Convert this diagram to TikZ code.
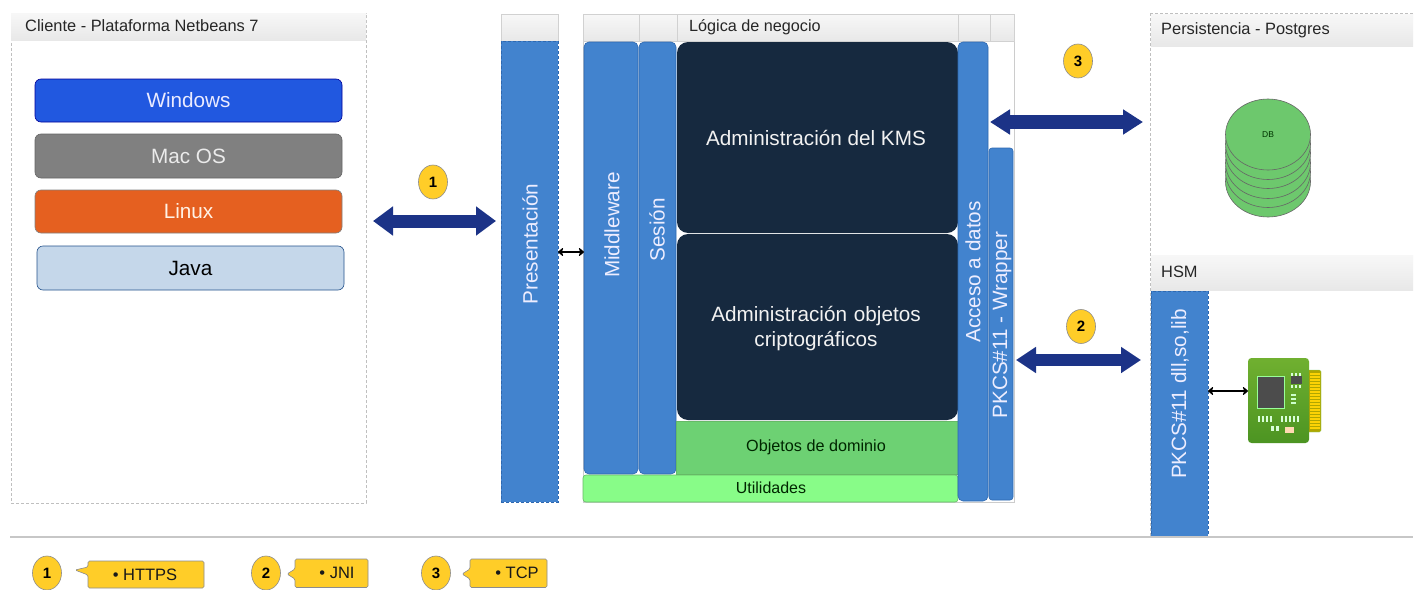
\documentclass[tikz,border=0pt]{standalone}
\usepackage{fontspec}
\setmainfont{Liberation Sans}
\usetikzlibrary{arrows.meta,calc,shapes.geometric}
\definecolor{blueA}{HTML}{4283CE}
\definecolor{blueE}{HTML}{2E68B0}
\definecolor{darkK}{HTML}{16293F}
\definecolor{navyA}{HTML}{1C3387}
\definecolor{yel}{HTML}{FFCD28}
\definecolor{dbg}{HTML}{6DC86D}
\definecolor{winblue}{RGB}{33,88,224}
\definecolor{macgrey}{RGB}{128,128,128}
\definecolor{linuxor}{RGB}{229,96,32}
\definecolor{javabl}{RGB}{197,215,234}
\definecolor{domgreen}{RGB}{109,209,115}
\definecolor{utilgreen}{RGB}{136,252,136}
\definecolor{chiptop}{RGB}{112,176,48}
\definecolor{chipbot}{RGB}{76,148,34}
\newcommand{\fpx}[1]{\fontsize{#1}{#1}\selectfont}
\newcommand{\bx}[7]{%
  \pgfmathsetmacro{\bw}{#4-#2}\pgfmathsetmacro{\bh}{#5-#3}%
  \pgfmathsetmacro{\bcx}{(#4+#2)/2}\pgfmathsetmacro{\bcy}{(#5+#3)/2}%
  \node[#6,minimum width=\bw pt,minimum height=\bh pt] (#1) at (\bcx,\bcy) {#7};}
\tikzset{
  plainbox/.style={rectangle,inner sep=0pt,outer sep=0pt,line width=.6pt},
  lane/.style={plainbox,draw=black!25,densely dashed,line width=.5pt,fill=white},
  headcell/.style={plainbox,draw=black!18,line width=.5pt,top color=white!97!black,bottom color=black!9},
  headfree/.style={plainbox,top color=white!97!black,bottom color=black!9},
  osbox/.style={plainbox,rounded corners=6pt,font=\fpx{20.7}},
  bluebar/.style={plainbox,rounded corners=5pt,draw=blueE,fill=blueA},
  squarebar/.style={plainbox,draw=blueE,densely dashed,line width=.4pt,fill=blueA},
  darkbox/.style={plainbox,rounded corners=11pt,fill=darkK},
  vlabel/.style={rotate=90,inner sep=0pt,text=white!93!blue,font=\fpx{20.7}},
  darklabel/.style={inner sep=0pt,text=white!95!black,font=\fpx{20.7},align=center},
  headlabel/.style={inner sep=0pt,text=black!85,font=\fpx{16.4},anchor=west},
  greenlabel/.style={inner sep=0pt,text=black!85!green,font=\fpx{16.2}},
  badge/.style={ellipse,draw=black!45,line width=.6pt,fill=yel,inner sep=0pt,minimum width=29pt,minimum height=34pt,font=\bfseries\fpx{15}},
  bigarrow/.style={draw=navyA,line width=13pt,{Triangle[length=20pt,width=#1]}-{Triangle[length=20pt,width=#1]}},
  smallarrow/.style={draw=black,line width=2pt,{Stealth[length=6pt,width=10pt,round]}-{Stealth[length=6pt,width=10pt,round]}},
  callout/.style={draw=black!45,line width=.6pt,fill=yel,rounded corners=1.5pt},
  calltext/.style={inner sep=0pt,font=\fpx{16.5},text=black!90},
  disc/.style={draw=black!60,line width=.6pt,fill=dbg},
}
\begin{document}
\begin{tikzpicture}[x=1pt,y=-1pt]
\useasboundingbox[fill=white] (0,0) rectangle (1418,589);
% Client lane
\bx{client}{11}{13}{366}{503}{lane}{}
\bx{clienthead}{11}{13}{366}{40}{headfree}{}
\node[headlabel] (clienttitle) at (25,26) {Cliente - Plataforma Netbeans 7};
\bx{windows}{35}{79}{342}{122}{osbox,draw=blue!60!black,fill=winblue,text=white!92!blue}{Windows}
\bx{macos}{35}{134}{342}{178}{osbox,draw=black!60,fill=macgrey,text=white!92!black}{Mac OS}
\bx{linux}{35}{190}{342}{233}{osbox,draw=black!50,fill=linuxor,text=white!90!orange}{Linux}
\bx{java}{37}{246}{344}{290}{osbox,draw=blueE!80!black,fill=javabl,text=black}{Java}
% Presentation lane
\bx{preshead}{501}{14}{558}{41}{headcell}{}
\bx{pres}{501}{41}{558}{502}{squarebar}{}
\node[vlabel] (preslabel) at (530,244) {Presentación};
% Logic lane
\bx{logiclane}{583}{14}{1014}{502}{plainbox,draw=black!20,line width=.5pt,fill=white}{}
\bx{hA}{583}{14}{639}{41}{headcell}{}
\bx{hB}{639}{14}{677}{41}{headcell}{}
\bx{hC}{677}{14}{958}{41}{headcell}{}
\bx{hD}{958}{14}{990}{41}{headcell}{}
\bx{hE}{990}{14}{1014}{41}{headcell}{}
\node[headlabel,font=\fpx{16.2}] (logictitle) at (689,27) {Lógica de negocio};
\bx{middleware}{584}{42}{638}{474}{bluebar}{}
\node[vlabel] (mwlabel) at (612,225) {Middleware};
\bx{sesion}{639}{42}{676}{474}{bluebar}{}
\node[vlabel] (seslabel) at (657,230) {Sesión};
\bx{kms}{677}{42}{958}{233}{darkbox}{}
\node[darklabel] (kmslabel) at (816,138) {Administración del KMS};
\bx{objcrip}{677}{234}{958}{420}{darkbox}{}
\node[darklabel,text width=270pt] (objlabel) at (816,328.5) {Administración objetos\\[3.5pt]criptográficos};
\bx{dominio}{676}{421}{958}{474}{plainbox,draw=black!45!green!60,fill=domgreen}{}
\node[greenlabel] (domlabel) at (816,447) {Objetos de dominio};
\bx{util}{583}{475}{958}{502}{plainbox,rounded corners=3pt,draw=black!45!green!60,fill=utilgreen}{}
\node[greenlabel,font=\fpx{16}] (utillabel) at (771,488) {Utilidades};
\bx{acceso}{958}{42}{988}{501}{bluebar}{}
\node[vlabel] (acclabel) at (973,272) {Acceso a datos};
\bx{wrapper}{989}{148}{1013}{500}{plainbox,rounded corners=3pt,draw=blueE,fill=blueA}{}
\node[vlabel] (wraplabel) at (1002,325) {PKCS\#11 - Wrapper};
% Right lane
\bx{rightlane}{1150}{13}{1413}{537}{plainbox,draw=none,fill=white}{}
\draw[black!25,densely dashed,line width=.5pt] (rightlane.north west) -- (rightlane.south west);
\draw[black!25,densely dashed,line width=.5pt] (rightlane.north west) -- (rightlane.north east);
\bx{pershead}{1151}{14}{1413}{46}{headfree}{}
\node[headlabel] (perstitle) at (1161,30) {Persistencia - Postgres};
\bx{hsmhead}{1151}{255}{1413}{290}{headfree}{}
\node[headlabel] (hsmtitle) at (1161,272) {HSM};
\bx{hsmbar}{1151}{291}{1208}{537}{squarebar}{}
\node[vlabel] (hsmlabel) at (1180,394) {PKCS\#11 dll,so,lib};
% Database
\foreach \yy in {181.5,172,163,153,144}{\draw[disc] (1268,\yy) ellipse [x radius=42.5,y radius=35.5];}
\draw[disc] (1268,134.5) ellipse [x radius=42.5,y radius=35.5];
\node[inner sep=0pt,font=\fpx{8.5},text=black!80!green] (dblabel) at (1268,134.5) {DB};
% Chip icon
\path[fill=olive!70!yellow,draw=black!25!green!50,line width=.3pt,rounded corners=1.5pt] (1305,370) rectangle (1321,432);
\foreach \yy in {373,376,...,428}{\fill[yellow!70!orange] (1310,\yy) rectangle (1320,\yy+1.8);}
\node[plainbox,minimum width=61pt,minimum height=85pt,rounded corners=3.5pt,top color=chiptop,bottom color=chipbot] (chip) at (1278.5,400.5) {};
\path[fill=black!70,draw=white!60!green,line width=.8pt] (1257,376) rectangle (1284,408);
\fill[black!70] (1291,376) rectangle (1302,384);
\foreach \xx in {1291,1295,1299}{\fill[white!85!green] (\xx,373) rectangle (\xx+2,375.5);\fill[white!85!green] (\xx,385) rectangle (\xx+2,387.5);}
\foreach \yy in {394,398,402}{\fill[white!80!green] (1291,\yy) rectangle (1296,\yy+2);}
\foreach \xx in {1257.5,1261.5,1265.5,1269.5,1281,1285,1289,1293,1297}{\fill[white!85!green] (\xx,416) rectangle (\xx+2.4,422);}
\foreach \xx in {1271,1276}{\fill[white!85!green] (\xx,426) rectangle (\xx+3,431);}
\fill[white!70!orange] (1285,427) rectangle (1294,433);
% Connectors
\coordinate (a1l) at (373,221);\coordinate (a1r) at (496,221);
\draw[bigarrow=28pt] (a1l) -- (a1r);
\coordinate (a3l) at (990,122);\coordinate (a3r) at (1143,122);
\draw[bigarrow=24pt,line width=14pt] (a3l) -- (a3r);
\coordinate (a2l) at (1016,360);\coordinate (a2r) at (1141,360);
\draw[bigarrow=25pt,line width=12pt] (a2l) -- (a2r);
\draw[smallarrow] (pres.east |- 0,252) -- (middleware.west |- 0,252);
\draw[smallarrow] (hsmbar.east |- 0,391) -- (chip.west |- 0,391);
% Badges
\node[badge] (b1) at (433,182) {1};
\node[badge] (b3) at (1078,61) {3};
\node[badge] (b2) at (1081,326.5) {2};
% Divider
\coordinate (divl) at (10,537);\coordinate (divr) at (1413,537);
\draw[black!22,line width=1.8pt] (divl) -- (divr);
% Legend
\node[badge] (k1) at (47,573) {1};
\draw[callout] (88,561) -- (204,561) -- (204,588) -- (88,588) -- (88,575) -- (75,570) -- (88,567) -- cycle;
\node[calltext] (k1t) at (145,575) {\textbullet{} HTTPS};
\node[badge] (k2) at (266,573) {2};
\draw[callout] (295,559) -- (368,559) -- (368,587.5) -- (295,587.5) -- (295,579) -- (287,574) -- (295,569) -- cycle;
\node[calltext] (k2t) at (337,573) {\textbullet{} JNI};
\node[badge] (k3) at (436,573) {3};
\draw[callout] (470,559) -- (547,559) -- (547,587.5) -- (470,587.5) -- (470,579) -- (462,574) -- (470,569) -- cycle;
\node[calltext] (k3t) at (517,573) {\textbullet{} TCP};
\end{tikzpicture}
\end{document}
